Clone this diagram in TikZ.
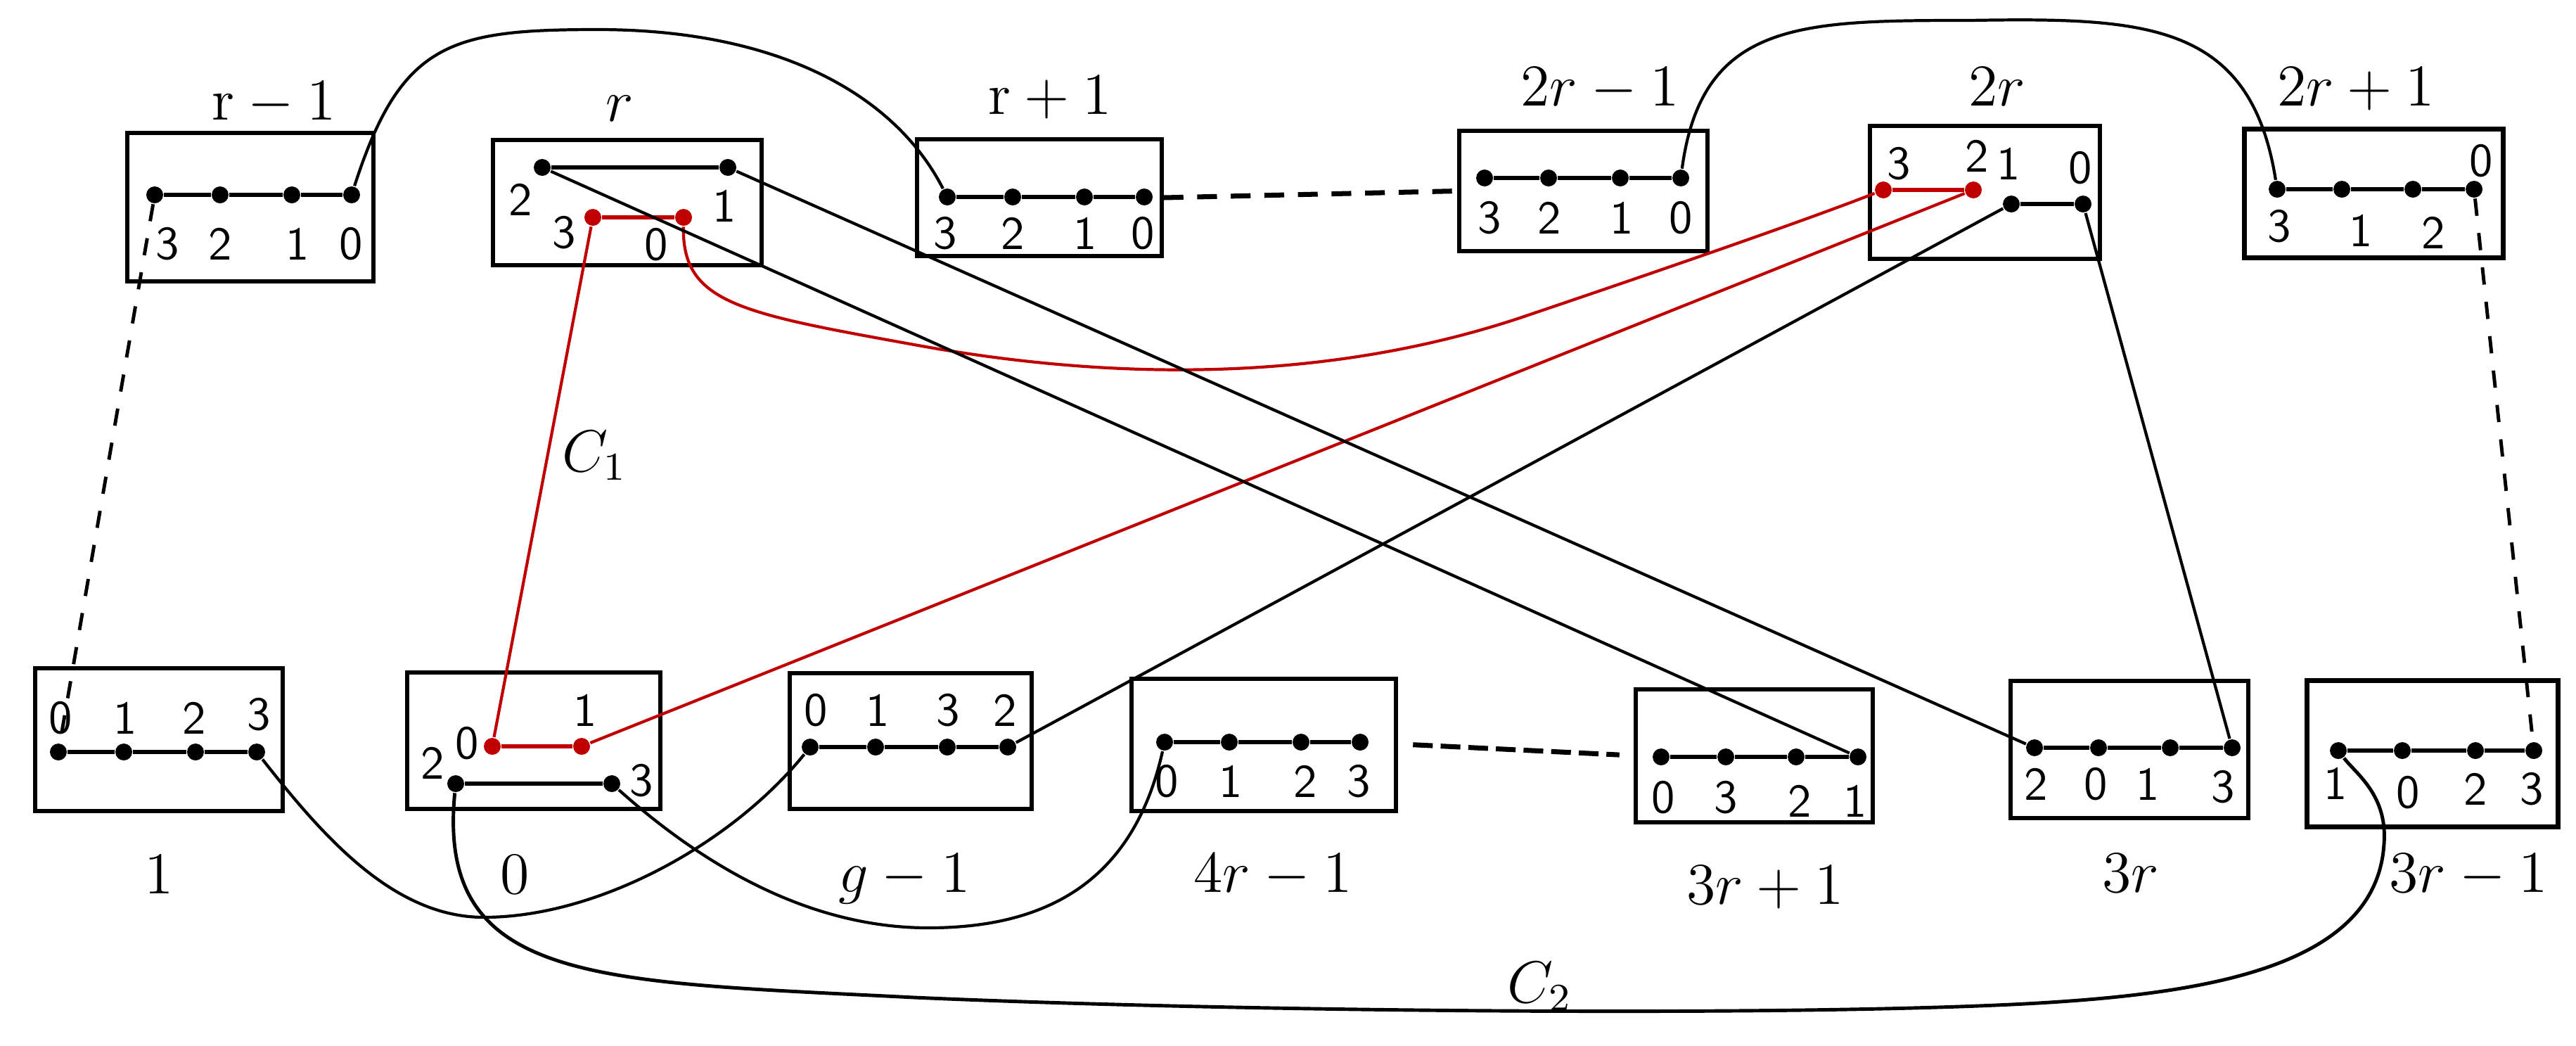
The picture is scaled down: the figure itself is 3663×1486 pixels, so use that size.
\documentclass[tikz,border=0pt]{standalone}
\usepackage{tikz}
\definecolor{cred}{RGB}{192,0,0}

\begin{document}
\begin{tikzpicture}[
    x=0.005cm, y=-0.005cm,
    blk/.style={draw, line width=0.8pt, inner sep=0pt},
    vtx/.style={circle, fill=black, inner sep=0pt, minimum size=0.12cm},
    rvtx/.style={vtx, fill=cred},
    num/.style={font=\fontsize{9.5}{11}\sffamily, inner sep=0pt},
    lab/.style={font=\fontsize{12}{14}\selectfont, anchor=base, inner sep=0pt},
    bar/.style={line width=0.75pt},
    rbar/.style={line width=0.75pt, cred},
    link/.style={line width=0.6pt},
    rlink/.style={line width=0.6pt, cred},
    gap/.style={line width=1pt, dash pattern=on 4pt off 2.8pt},
    vgap/.style={line width=0.7pt, dash pattern=on 3.5pt off 3.5pt}
]
% unités : pixels de l'image (3663 x 1486), y vers le bas
\useasboundingbox (0,0) rectangle (3663,1486);

% Rangée du haut : r-1
\node[blk, minimum width=1.75cm, minimum height=1.055cm] (Brm) at (356,294.5) {};
\node[lab] (Lrm) at (390,170) {$\mathrm{r}-1$};
\node[vtx] (rm3) at (220,277) {};
\node[vtx] (rm2) at (313,277) {};
\node[vtx] (rm1) at (415,277) {};
\node[vtx] (rm0) at (500,277) {};
\node[num] (nrm3) at (238,347) {3};
\node[num] (nrm2) at (313,347) {2};
\node[num] (nrm1) at (423,347) {1};
\node[num] (nrm0) at (499,347) {0};
\draw[bar] (rm3) -- (rm2) -- (rm1) -- (rm0);

% r
\node[blk, minimum width=1.91cm, minimum height=0.89cm] (Br) at (892,288) {};
\node[lab] (Lr) at (881,172) {$r$};
\node[vtx] (r2) at (771,238) {};
\node[vtx] (r1) at (1035,238) {};
\node[rvtx] (r3) at (843,309) {};
\node[rvtx] (r0) at (972,309) {};
\node[num] (nr2) at (740,284) {2};
\node[num] (nr1) at (1030,293) {1};
\node[num] (nr3) at (802,331) {3};
\node[num] (nr0) at (933,348) {0};
\draw[bar] (r2) -- (r1);
\draw[rbar] (r3) -- (r0);

% r+1
\node[blk, minimum width=1.74cm, minimum height=0.83cm] (Brp) at (1478,281) {};
\node[lab] (Lrp) at (1493,162) {$\mathrm{r}+1$};
\node[vtx] (rp3) at (1347,280) {};
\node[vtx] (rp2) at (1440,280) {};
\node[vtx] (rp1) at (1542,280) {};
\node[vtx] (rp0) at (1627,280) {};
\node[num] (nrp3) at (1344,332) {3};
\node[num] (nrp2) at (1440,332) {2};
\node[num] (nrp1) at (1543,332) {1};
\node[num] (nrp0) at (1625,332) {0};
\draw[bar] (rp3) -- (rp2) -- (rp1) -- (rp0);

% 2r-1
\node[blk, minimum width=1.765cm, minimum height=0.855cm] (Btm) at (2251.5,271.5) {};
\node[lab] (Ltm) at (2275,150) {$2r-1$};
\node[vtx] (tm3) at (2111,253) {};
\node[vtx] (tm2) at (2202,253) {};
\node[vtx] (tm1) at (2304,253) {};
\node[vtx] (tm0) at (2390,253) {};
\node[num] (ntm3) at (2118,310) {3};
\node[num] (ntm2) at (2203,310) {2};
\node[num] (ntm1) at (2306,310) {1};
\node[num] (ntm0) at (2390,310) {0};
\draw[bar] (tm3) -- (tm2) -- (tm1) -- (tm0);

% 2r
\node[blk, minimum width=1.635cm, minimum height=0.945cm] (Bt) at (2822.5,273.5) {};
\node[lab] (Lt) at (2840,150) {$2r$};
\node[rvtx] (t3) at (2678,270) {};
\node[rvtx] (t2) at (2806,270) {};
\node[vtx] (t1) at (2860,290) {};
\node[vtx] (t0) at (2962,290) {};
\node[num] (nt3) at (2700,233) {3};
\node[num] (nt2) at (2811,222) {2};
\node[num] (nt1) at (2856,233) {1};
\node[num] (nt0) at (2958,239) {0};
\draw[rbar] (t3) -- (t2);
\draw[bar] (t1) -- (t0);

% 2r+1
\node[blk, line width=1pt, minimum width=1.845cm, minimum height=0.92cm] (Btp) at (3375.5,275) {};
\node[lab] (Ltp) at (3350,150) {$2r+1$};
\node[vtx] (tp3) at (3238,269) {};
\node[vtx] (tp1) at (3330,269) {};
\node[vtx] (tp2) at (3431,269) {};
\node[vtx] (tp0) at (3518,269) {};
\node[num] (ntp3) at (3241,322) {3};
\node[num] (ntp1) at (3357,328) {1};
\node[num] (ntp2) at (3460,331) {2};
\node[num] (ntp0) at (3528,229) {0};
\draw[bar] (tp3) -- (tp1) -- (tp2) -- (tp0);

% Rangée du bas : 1
\node[blk, minimum width=1.76cm, minimum height=1.015cm] (Bone) at (226,1051.5) {};
\node[lab] (Lone) at (226,1270) {$1$};
\node[vtx] (o0) at (83,1069) {};
\node[vtx] (o1) at (176,1069) {};
\node[vtx] (o2) at (278,1069) {};
\node[vtx] (o3) at (365,1069) {};
\node[num] (no0) at (86,1021) {0};
\node[num] (no1) at (178,1021) {1};
\node[num] (no2) at (276,1021) {2};
\node[num] (no3) at (368,1016) {3};
\draw[bar] (o0) -- (o1) -- (o2) -- (o3);

% 0
\node[blk, minimum width=1.8cm, minimum height=0.97cm] (Bzero) at (759,1053) {};
\node[lab] (Lzero) at (732,1270) {$0$};
\node[rvtx] (z0) at (700,1061) {};
\node[rvtx] (z1) at (827,1061) {};
\node[vtx] (z2) at (648,1114) {};
\node[vtx] (z3) at (870,1114) {};
\node[num] (nz0) at (664,1057) {0};
\node[num] (nz1) at (832,1010) {1};
\node[num] (nz2) at (615,1085) {2};
\node[num] (nz3) at (912,1110) {3};
\draw[rbar] (z0) -- (z1);
\draw[bar] (z2) -- (z3);

% g-1
\node[blk, minimum width=1.72cm, minimum height=0.965cm] (Bg) at (1295,1053.5) {};
\node[lab] (Lg) at (1286,1268) {$g-1$};
\node[vtx] (g0) at (1152,1062) {};
\node[vtx] (g1) at (1245,1062) {};
\node[vtx] (g3) at (1347,1062) {};
\node[vtx] (g2) at (1433,1062) {};
\node[num] (ng0) at (1160,1010) {0};
\node[num] (ng1) at (1248,1010) {1};
\node[num] (ng3) at (1348,1010) {3};
\node[num] (ng2) at (1429,1010) {2};
\draw[bar] (g0) -- (g1) -- (g3) -- (g2);

% 4r-1
\node[blk, minimum width=1.88cm, minimum height=0.94cm] (Bf) at (1797,1059) {};
\node[lab] (Lf) at (1810,1268) {$4r-1$};
\node[vtx] (f0) at (1656,1055) {};
\node[vtx] (f1) at (1748,1055) {};
\node[vtx] (f2) at (1850,1055) {};
\node[vtx] (f3) at (1934,1055) {};
\node[num] (nf0) at (1659,1111) {0};
\node[num] (nf1) at (1750,1111) {1};
\node[num] (nf2) at (1856,1111) {2};
\node[num] (nf3) at (1932,1111) {3};
\draw[bar] (f0) -- (f1) -- (f2) -- (f3);

% 3r+1
\node[blk, minimum width=1.685cm, minimum height=0.945cm] (Bhp) at (2494.5,1074.5) {};
\node[lab] (Lhp) at (2510,1285) {$3r+1$};
\node[vtx] (hp0) at (2362,1076) {};
\node[vtx] (hp3) at (2454,1076) {};
\node[vtx] (hp2) at (2554,1076) {};
\node[vtx] (hp1) at (2642,1076) {};
\node[num] (nhp0) at (2365,1134) {0};
\node[num] (nhp3) at (2454,1134) {3};
\node[num] (nhp2) at (2559,1139) {2};
\node[num] (nhp1) at (2638,1139) {1};
\draw[bar] (hp0) -- (hp3) -- (hp2) -- (hp1);

% 3r
\node[blk, minimum width=1.69cm, minimum height=0.975cm] (Bh) at (3028,1065.5) {};
\node[lab] (Lh) at (3030,1268) {$3r$};
\node[vtx] (h2) at (2893,1063) {};
\node[vtx] (h0) at (2984,1063) {};
\node[vtx] (h1) at (3086,1063) {};
\node[vtx] (h3) at (3174,1063) {};
\node[num] (nh2) at (2895,1115) {2};
\node[num] (nh0) at (2980,1115) {0};
\node[num] (nh1) at (3054,1115) {1};
\node[num] (nh3) at (3161,1119) {3};
\draw[bar] (h2) -- (h0) -- (h1) -- (h3);

% 3r-1
\node[blk, line width=1pt, minimum width=1.79cm, minimum height=1.045cm] (Bhm) at (3459,1071.5) {};
\node[lab] (Lhm) at (3510,1268) {$3r-1$};
\node[vtx] (hm1) at (3325,1067) {};
\node[vtx] (hm0) at (3416,1067) {};
\node[vtx] (hm2) at (3520,1067) {};
\node[vtx] (hm3) at (3603,1067) {};
\node[num] (nhm1) at (3321,1114) {1};
\node[num] (nhm0) at (3424,1127) {0};
\node[num] (nhm2) at (3520,1122) {2};
\node[num] (nhm3) at (3600,1122) {3};
\draw[bar, line width=0.9pt] (hm1) -- (hm0) -- (hm2) -- (hm3);

% Cycle C1 (rouge)
\draw[rlink] (z0) -- (r3);
\draw[rlink] (z1) -- (t2);
\draw[rlink] (r0) .. controls (970,430) and (1050,445) .. (1300,490)
                  .. controls (1600,545) and (1900,540) .. (2167,450)
                  .. controls (2300,405) and (2550,320) .. (t3);
\node[lab, anchor=base west] (C1) at (798,670) {$C_1$};

% Liaisons noires
\draw[link] (rm0) .. controls (570,60) and (640,42) .. (850,42)
                  .. controls (1100,42) and (1270,130) .. (rp3);
\draw[link] (tm0) .. controls (2420,30) and (2560,29) .. (2800,29)
                  .. controls (3050,25) and (3200,30) .. (tp3);
\draw[link] (r2) -- (hp1);
\draw[link] (r1) -- (h2);
\draw[link] (g2) -- (t1);
\draw[link] (t0) -- (h3);
\draw[link] (o3) .. controls (460,1190) and (560,1304) .. (688,1304)
                 .. controls (850,1304) and (1040,1200) .. (g0);
\draw[link] (z3) .. controls (1000,1230) and (1150,1319) .. (1320,1319)
                 .. controls (1480,1319) and (1610,1260) .. (f0);

% Cycle C2
\draw[link, line width=0.7pt] (z2) .. controls (620,1400) and (850,1395) .. (1300,1418)
                 .. controls (1800,1440) and (2600,1445) .. (2914,1425)
                 .. controls (3150,1410) and (3380,1370) .. (3390,1199)
                 .. controls (3395,1130) and (3350,1100) .. (hm1);
\node[lab, anchor=base west] (C2) at (2142,1425) {$C_2$};

% Pointillés
\draw[gap] (Brp.east) -- (Btm.west);
\draw[gap, dash pattern=on 4pt off 1.6pt, shorten <=0.31cm, shorten >=0.23cm] (f3) -- (hp0);
\draw[vgap] (rm3) -- (o0);
\draw[vgap] (tp0) -- (hm3);
\end{tikzpicture}
\end{document}
